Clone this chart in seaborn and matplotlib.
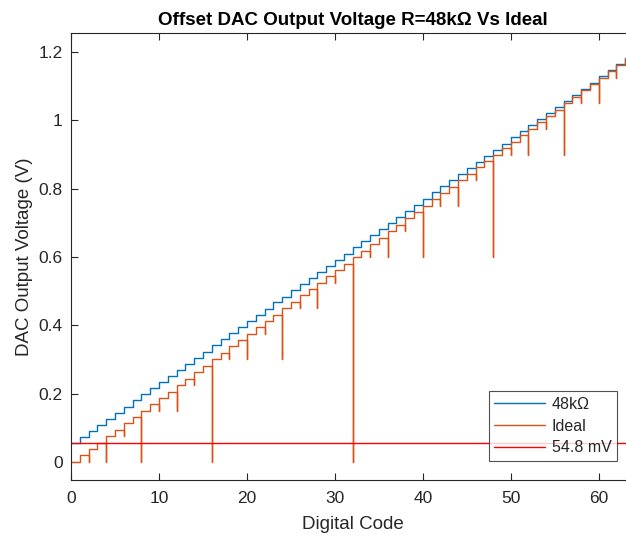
import numpy as np
import pandas as pd
import matplotlib
matplotlib.use("Agg")
import matplotlib.pyplot as plt
import seaborn as sns
from matplotlib.lines import Line2D

# ---- data ----
codes = list(range(64))
ideal_v = [0.000, 0.019, 0.038, 0.056, 0.075, 0.094, 0.113, 0.131,
           0.150, 0.169, 0.188, 0.206, 0.225, 0.244, 0.263, 0.281,
           0.300, 0.319, 0.338, 0.356, 0.375, 0.394, 0.413, 0.431,
           0.450, 0.469, 0.488, 0.506, 0.525, 0.544, 0.563, 0.581,
           0.600, 0.619, 0.638, 0.656, 0.675, 0.694, 0.713, 0.731,
           0.750, 0.769, 0.788, 0.806, 0.825, 0.844, 0.863, 0.881,
           0.900, 0.919, 0.938, 0.956, 0.975, 0.994, 1.013, 1.031,
           1.050, 1.069, 1.088, 1.106, 1.125, 1.144, 1.163, 1.181]
r48k_v = [0.055, 0.073, 0.091, 0.109, 0.126, 0.144, 0.162, 0.180,
          0.198, 0.216, 0.234, 0.252, 0.270, 0.288, 0.305, 0.323,
          0.341, 0.359, 0.377, 0.395, 0.413, 0.431, 0.449, 0.467,
          0.484, 0.502, 0.520, 0.538, 0.556, 0.574, 0.592, 0.610,
          0.628, 0.646, 0.663, 0.681, 0.699, 0.717, 0.735, 0.753,
          0.771, 0.789, 0.807, 0.825, 0.842, 0.860, 0.878, 0.896,
          0.914, 0.932, 0.950, 0.968, 0.986, 1.004, 1.021, 1.039,
          1.057, 1.075, 1.093, 1.111, 1.129, 1.147, 1.165, 1.183]
# glitch dips of the ideal curve at code transitions
glitch_codes = [2, 4, 6, 8, 10, 12, 14, 16, 18, 20, 22, 24, 26, 28, 30, 32,
                34, 36, 38, 40, 42, 44, 46, 48, 50, 52, 54, 56, 58, 60, 62]
glitch_v = [0.000, 0.000, 0.075, 0.000, 0.150, 0.150, 0.225, 0.000,
            0.300, 0.300, 0.375, 0.300, 0.450, 0.450, 0.525, 0.000,
            0.600, 0.600, 0.675, 0.600, 0.750, 0.750, 0.825, 0.600,
            0.900, 0.900, 0.975, 0.900, 1.050, 1.050, 1.125]
offset_mv = 54.8
x_end = 64

labels = ["48k\u03A9", "Ideal", "54.8 mV"]
colors = ["#0072BD", "#D95319", "#FF0000"]


def stair_path(xs, ys, dips=None):
    px, py = [xs[0]], [ys[0]]
    for i in range(1, len(xs)):
        px.append(xs[i]); py.append(ys[i - 1])
        if dips and xs[i] in dips:
            px.append(xs[i]); py.append(dips[xs[i]])
        px.append(xs[i]); py.append(ys[i])
    px.append(x_end); py.append(ys[-1])
    return pd.DataFrame({"code": px, "v": py, "order": range(len(px))})


df_r = stair_path(codes, r48k_v)
df_i = stair_path(codes, ideal_v, dict(zip(glitch_codes, glitch_v)))

sns.set_style("ticks")
plt.rcParams["font.family"] = ["Liberation Sans", "DejaVu Sans"]
plt.rcParams["xtick.direction"] = "in"
plt.rcParams["ytick.direction"] = "in"

fig = plt.figure(figsize=(6.26, 5.36), dpi=100)
W, H = 626, 536
ax_l, ax_r, ax_t, ax_b = 71, 634, 33, 480
ax = fig.add_axes([ax_l / W, 1 - ax_b / H, (ax_r - ax_l) / W, (ax_b - ax_t) / H])

sns.lineplot(data=df_r, x="code", y="v", sort=False, estimator=None,
             color=colors[0], linewidth=1.0, ax=ax)
sns.lineplot(data=df_i, x="code", y="v", sort=False, estimator=None,
             color=colors[1], linewidth=1.0, ax=ax)
ax.axhline(offset_mv / 1000, color=colors[2], linewidth=1.0)

ax.set_xlim(0, x_end)
ax.set_ylim(-0.053, 1.256)
ax.set_xticks([0, 10, 20, 30, 40, 50, 60])
ax.set_yticks([0, 0.2, 0.4, 0.6, 0.8, 1.0, 1.2])
ax.set_yticklabels(["0", "0.2", "0.4", "0.6", "0.8", "1", "1.2"])
ax.tick_params(axis="both", which="both", direction="in", top=True, right=True,
               length=5, width=0.8, colors="#262626", labelsize=12.5)
ax.tick_params(axis="x", pad=8)
ax.tick_params(axis="y", pad=6)
for s in ax.spines.values():
    s.set_color("#262626")
    s.set_linewidth(0.8)

ax.set_xlabel("Digital Code", fontsize=13.5, color="#262626", labelpad=7)
ax.set_ylabel("DAC Output Voltage (V)", fontsize=13.5, color="#262626", labelpad=4)
ax.set_title("Offset DAC Output Voltage R=48k\u03A9 Vs Ideal", fontsize=13.5,
             fontweight="bold", color="black", pad=6)

handles = [Line2D([0], [0], color=c, linewidth=1.0) for c in colors]
leg = ax.legend(handles, labels, loc="lower right",
                bbox_to_anchor=(0.970, 0.0425), borderaxespad=0,
                fontsize=11.5, frameon=True, fancybox=False,
                handlelength=3.2, handletextpad=0.4, labelspacing=0.42,
                borderpad=0.35)
leg.get_frame().set_edgecolor("#262626")
leg.get_frame().set_linewidth(0.8)
for t in leg.get_texts():
    t.set_color("#262626")

fig.savefig("out.png", dpi=100)
